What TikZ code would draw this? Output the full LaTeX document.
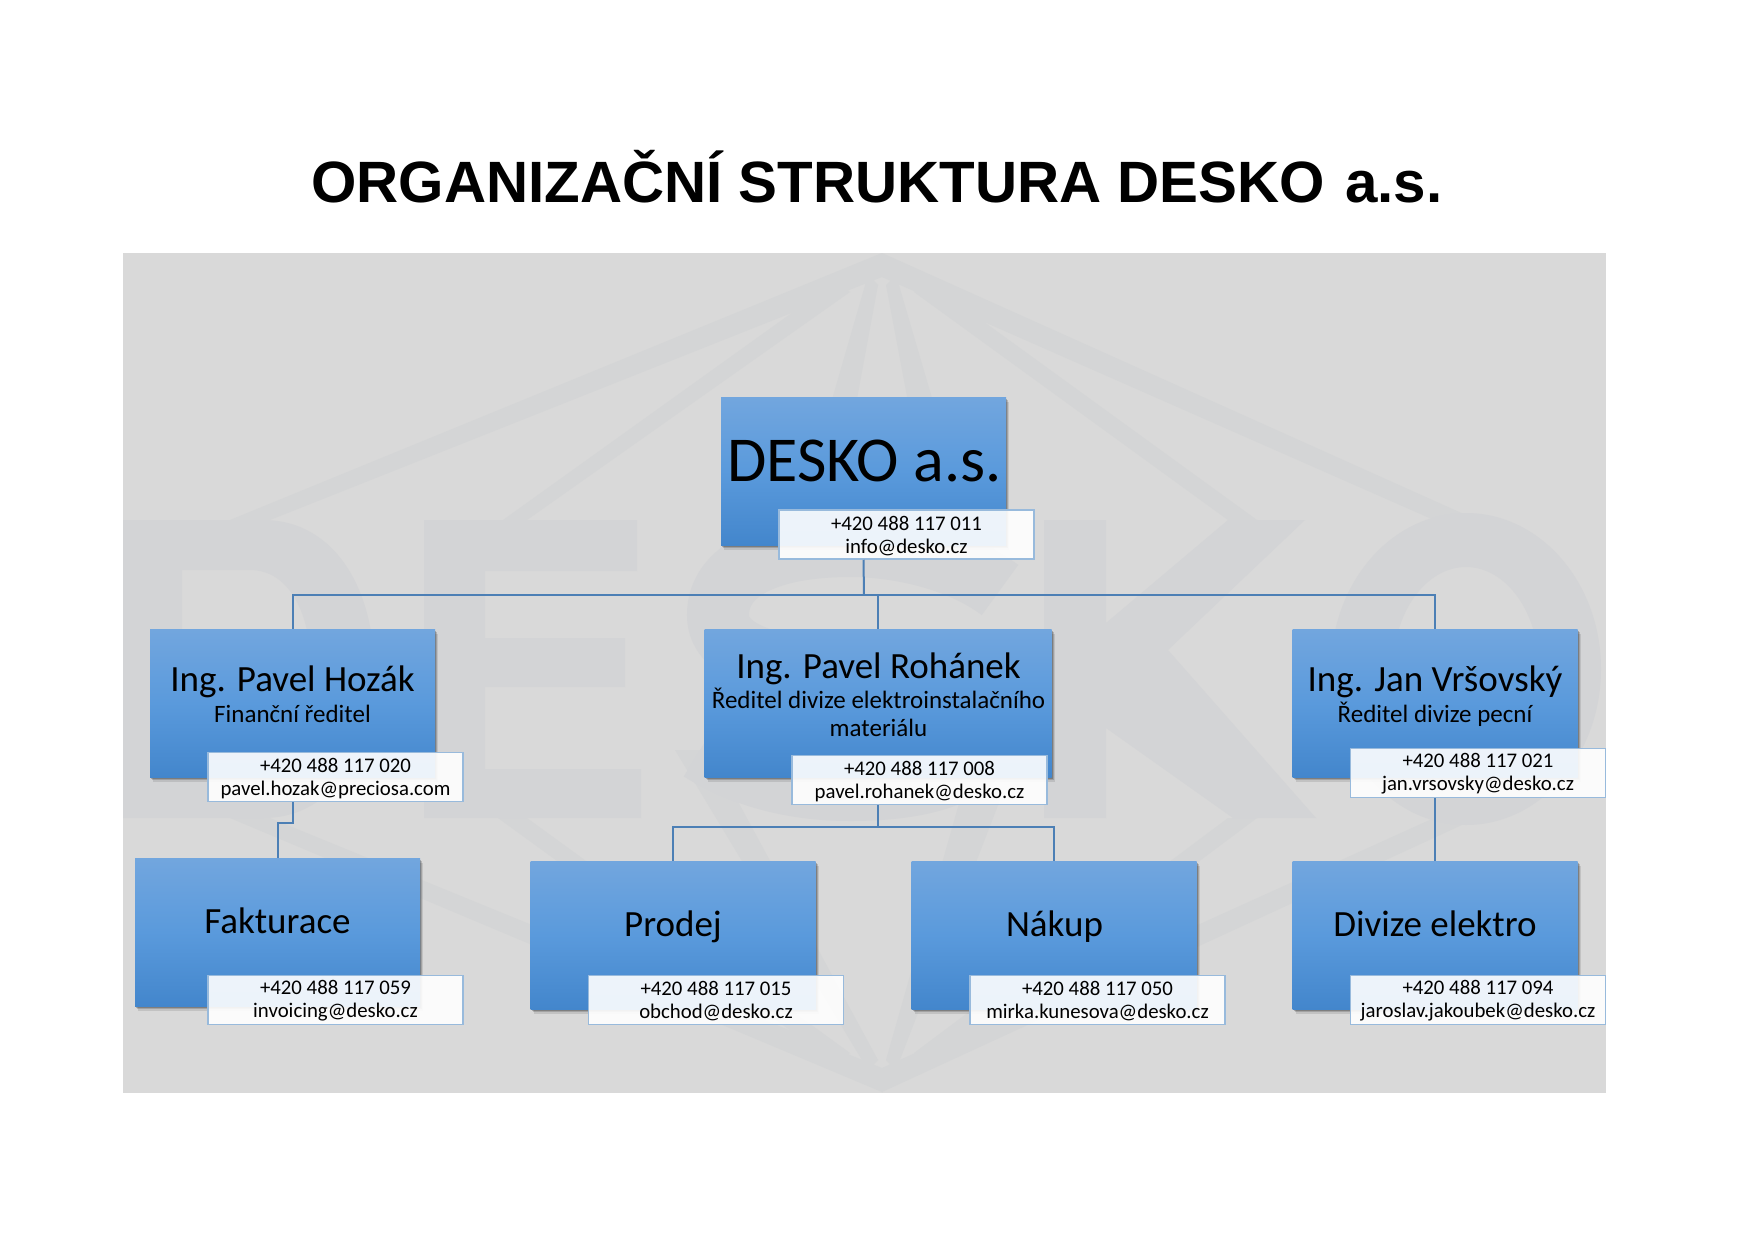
\documentclass[tikz,border=0pt]{standalone}
\usepackage{fontspec}
\setmainfont{Carlito}
\newfontfamily\titlefont{Liberation Sans}[BoldFont={Liberation Sans Bold}]
\usetikzlibrary{shadows}
\definecolor{bgcol}{HTML}{D9D9D9}
\definecolor{wmcol}{HTML}{D3D4D6}
\definecolor{raycol}{HTML}{D4D5D6}
\definecolor{linecol}{HTML}{4C7FB5}
\definecolor{boxtop}{HTML}{72A6DE}
\definecolor{boxmid}{HTML}{5A9ADC}
\definecolor{boxbot}{HTML}{4386CC}
\definecolor{contactline}{HTML}{98BADC}
\newcommand{\contactpad}{\rule{0pt}{16.5pt}}
\tikzset{
  orgbox/.style={rectangle,inner sep=0pt,minimum width=285pt,minimum height=148pt,
    top color=boxtop,bottom color=boxbot,middle color=boxmid,
    drop shadow={shadow xshift=3pt,shadow yshift=-4.5pt,fill=black,opacity=.10},
    drop shadow={shadow xshift=2pt,shadow yshift=-3pt,fill=black,opacity=.16},
    drop shadow={shadow xshift=1pt,shadow yshift=-1.5pt,fill=black,opacity=.22}},
  contact/.style={rectangle,draw=contactline,line width=1.5pt,fill=white,fill opacity=.9,text opacity=1,
    inner sep=0pt,minimum width=255pt,minimum height=49pt,align=center,
    font=\fontsize{20.8}{23}\selectfont},
  bigname/.style={anchor=base,inner sep=0pt,font=\fontsize{37}{40}\selectfont},
  subname/.style={anchor=base,inner sep=0pt,font=\fontsize{25}{28}\selectfont},
  conn/.style={draw=linecol,line width=2pt,line join=miter},
  wm/.style={fill=wmcol,draw=none},
  ray/.style={fill=raycol,draw=none}
}
\begin{document}
\begin{tikzpicture}[x=1pt,y=-1pt]
\useasboundingbox (0,0) rectangle (1754,1240);
\fill[white] (0,0) rectangle (1754,1240);
\fill[bgcol] (123,253) rectangle (1606,1093);
% watermark
\begin{scope}
\clip (123,253) rectangle (1606,1093);
% rays, top
\fill[ray] (882,253)--(230,520)--(270,520)--(882,277)--cycle;
\fill[ray] (882,253)--(1477,520)--(1434,520)--(882,277)--cycle;
\fill[ray] (835,282)--(503,520)--(527,520)--(850,292)--cycle;
\fill[ray] (929,282)--(1257,520)--(1228,520)--(914,292)--cycle;
\fill[ray] (868,275)--(790,545)--(830,545)--(878,285)--cycle;
\fill[ray] (896,275)--(975,545)--(935,545)--(886,285)--cycle;
% rays, bottom
\fill[ray] (882,1092)--(230,818)--(270,818)--(882,1068)--cycle;
\fill[ray] (882,1092)--(1477,818)--(1434,818)--(882,1068)--cycle;
\fill[ray] (835,1063)--(498,818)--(527,818)--(850,1053)--cycle;
\fill[ray] (929,1063)--(1257,818)--(1228,818)--(914,1053)--cycle;
\fill[ray] (868,1070)--(675,750)--(710,750)--(878,1060)--cycle;
\fill[ray] (896,1070)--(1000,800)--(960,800)--(886,1060)--cycle;
% D
\fill[wm,even odd rule] (123,520)--(263,520)
  .. controls (335,520) and (374,590) .. (374,669)
  .. controls (374,748) and (335,818) .. (263,818)--(123,818)--cycle
  (182,570)--(250,570) .. controls (290,570) and (311,615) .. (311,669)
  .. controls (311,723) and (290,768) .. (250,768)--(182,768)--cycle;
% E
\fill[wm] (424,520)--(637,520)--(637,571)--(485,571)--(485,638)--(625,638)--(625,687)--(485,687)--(485,769)--(641,769)--(641,818)--(424,818)--cycle;
% S
\draw[wmcol,line width=62pt] (1000,590)
  .. controls (960,560) and (900,546) .. (850,546)
  .. controls (770,546) and (718,570) .. (718,615)
  .. controls (718,700) and (985,655) .. (985,730)
  .. controls (985,775) and (920,790) .. (850,790)
  .. controls (790,790) and (740,775) .. (700,750);
% K
\fill[wm] (1044,520)--(1106,520)--(1106,623)--(1228,520)--(1305,520)--(1168,650)--(1316,818)--(1233,818)--(1106,728)--(1106,818)--(1044,818)--cycle;
% O
\fill[wm,even odd rule] (1466,669) ellipse [x radius=135,y radius=156] (1466,669) ellipse [x radius=73,y radius=102];
\end{scope}
% title
\node[anchor=base,inner sep=0pt,font=\titlefont\bfseries\fontsize{58.3}{65}\selectfont] (title) at (877,202) {ORGANIZAČNÍ STRUKTURA DESKO\hspace{4pt} a.s.};
% boxes
\node[orgbox] (desko) at (863.5,471) {};
\node[orgbox] (hozak) at (292.5,703) {};
\node[orgbox,minimum width=347pt] (rohanek) at (878,703) {};
\node[orgbox] (vrsovsky) at (1435,703) {};
\node[orgbox] (fakturace) at (277.5,932) {};
\node[orgbox] (prodej) at (673,935) {};
\node[orgbox] (nakup) at (1054,935) {};
\node[orgbox] (divize) at (1435,935) {};
% box texts
\node[anchor=base,inner sep=0pt,font=\fontsize{64}{70}\selectfont] (tdesko) at (864.5,481) {DESKO a.s.};
\node[bigname] (thozak) at (292.5,691) {Ing. Pavel Hozák};
\node[subname] (shozak) at (292.5,722) {Finanční ředitel};
\node[bigname] (trohanek) at (878.5,678) {Ing. Pavel Rohánek};
\node[subname] (srohanek) at (878.5,708) {Ředitel divize elektroinstalačního};
\node[subname] (mrohanek) at (878.5,736) {materiálu};
\node[bigname] (tvrsovsky) at (1435,691) {Ing. Jan Vršovský};
\node[subname] (svrsovsky) at (1435,722) {Ředitel divize pecní};
\node[bigname] (tfakturace) at (277.5,933.5) {Fakturace};
\node[bigname] (tprodej) at (673,936.5) {Prodej};
\node[bigname] (tnakup) at (1054.5,936.5) {Nákup};
\node[bigname] (tdivize) at (1435,936.5) {Divize elektro};
% contacts
\node[contact] (cdesko) at (906.5,534.5) {\contactpad +420 488 117 011\\info@desko.cz};
\node[contact] (chozak) at (335.5,777) {\contactpad +420 488 117 020\\pavel.hozak@preciosa.com};
\node[contact] (crohanek) at (919.5,780) {\contactpad +420 488 117 008\\pavel.rohanek@desko.cz};
\node[contact] (cvrsovsky) at (1478,773) {\contactpad +420 488 117 021\\jan.vrsovsky@desko.cz};
\node[contact] (cfakturace) at (335.5,1000) {\contactpad +420 488 117 059\\invoicing@desko.cz};
\node[contact] (cprodej) at (716,1000) {\contactpad +420 488 117 015\\obchod@desko.cz};
\node[contact] (cnakup) at (1097.5,1000) {\contactpad +420 488 117 050\\mirka.kunesova@desko.cz};
\node[contact] (cdivize) at (1478,1000) {\contactpad +420 488 117 094\\jaroslav.jakoubek@desko.cz};
% connectors
\coordinate (bus) at (864,595);
\coordinate (busb) at (878,827);
\coordinate (jog) at (292.5,823);
\draw[conn] (desko.south |- cdesko.south) -- (bus);
\draw[conn] (hozak.north) |- (bus);
\draw[conn] (vrsovsky.north) |- (bus);
\draw[conn] (rohanek.north) -- (rohanek.north |- bus);
\draw[conn] (rohanek.south |- crohanek.south) -- (busb);
\draw[conn] (prodej.north) |- (busb);
\draw[conn] (nakup.north) |- (busb);
\draw[conn] (hozak.south |- chozak.south) -- (jog) -| (fakturace.north);
\draw[conn] (vrsovsky.south |- cvrsovsky.south) -- (divize.north);
\end{tikzpicture}
\end{document}
